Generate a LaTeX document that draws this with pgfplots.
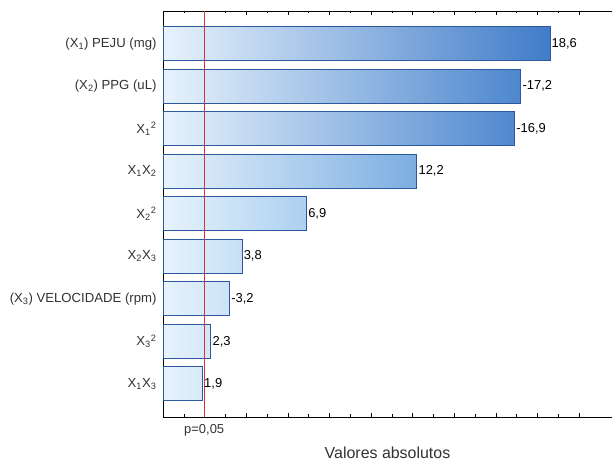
\documentclass[border=0pt]{standalone}
\usepackage{pgfplots}
\pgfplotsset{compat=1.18}
\usepackage{fontspec}
\setmainfont{Liberation Sans}
\definecolor{cLight}{RGB}{232,243,252}
\definecolor{cMid}{RGB}{150,196,236}
\definecolor{cDark}{RGB}{64,124,200}
\definecolor{cEdge}{RGB}{46,88,158}
\definecolor{cRed}{RGB}{214,52,58}
\definecolor{cTxt}{RGB}{50,50,50}
\newcommand{\Xs}[1]{X\textsubscript{#1}}
\pgfplotsset{
  mybar/.style 2 args={xbar, bar width=0.8, bar shift=0pt, draw=cEdge, line width=0.8pt,
    left color=cLight, middle color=#1, right color=#2,
    point meta=explicit symbolic, nodes near coords,
    nodes near coords style={anchor=west, xshift=-2bp, font=\fontsize{13}{15}\selectfont, text=black}}
}
\begin{document}
\begin{tikzpicture}
\path[use as bounding box] (-163bp,-45bp) rectangle (449bp,417bp);
\begin{axis}[
  at={(0,0)}, anchor=south west,
  scale only axis, width=449bp, height=406bp,
  xmin=0, xmax=21.58, ymin=-0.78, ymax=8.77,
  axis y line*=left, axis x line*=box,
  xtick={0,2,...,20}, minor x tick num=1,
  xticklabels={},
  major tick length=4bp, minor tick length=2.5bp,
  tick align=inside,
  tick style={black, line width=0.6pt},
  extra x ticks={1.98}, extra x tick labels={{p=0{,}05}},
  extra x tick style={major tick length=0pt, xticklabel style={yshift=-4bp}},
  xticklabel style={font=\fontsize{13}{15}\selectfont, text=cTxt},
  ytick={0,...,8},
  yticklabels={\Xs{1}\Xs{3},\Xs{3}\textsuperscript{2},(\Xs{3}) VELOCIDADE (rpm),\Xs{2}\Xs{3},\Xs{2}\textsuperscript{2},\Xs{1}\Xs{2},\Xs{1}\textsuperscript{2},(\Xs{2}) PPG (uL),(\Xs{1}) PEJU (mg)},
  yticklabel style={font=\fontsize{13.2}{15}\selectfont, text=cTxt, xshift=-3bp},
  xlabel={Valores absolutos},
  xlabel style={font=\fontsize{16}{18}\selectfont, text=cTxt, yshift=-4bp},
  axis line style={black, line width=0.8pt},
  clip=false,
]
\addplot[mybar={cMid}{cDark}] coordinates {(18.6,8) [18,6]};
\addplot[mybar={cMid!92!cLight}{cDark!85!cMid}] coordinates {(17.2,7) [-17,2]};
\addplot[mybar={cMid!91!cLight}{cDark!82!cMid}] coordinates {(16.9,6) [-16,9]};
\addplot[mybar={cMid!66!cLight}{cDark!31!cMid}] coordinates {(12.2,5) [12,2]};
\addplot[mybar={cMid!37!cLight}{cMid!74!cLight}] coordinates {(6.9,4) [6,9]};
\addplot[mybar={cMid!20!cLight}{cMid!41!cLight}] coordinates {(3.8,3) [3,8]};
\addplot[mybar={cMid!17!cLight}{cMid!34!cLight}] coordinates {(3.2,2) [-3,2]};
\addplot[mybar={cMid!12!cLight}{cMid!25!cLight}] coordinates {(2.3,1) [2,3]};
\addplot[mybar={cMid!10!cLight}{cMid!20!cLight}] coordinates {(1.9,0) [1,9]};
\addplot[draw=cRed, line width=0.8pt, mark=none] coordinates {(1.98,-0.78) (1.98,8.77)};
\end{axis}
\end{tikzpicture}
\end{document}
